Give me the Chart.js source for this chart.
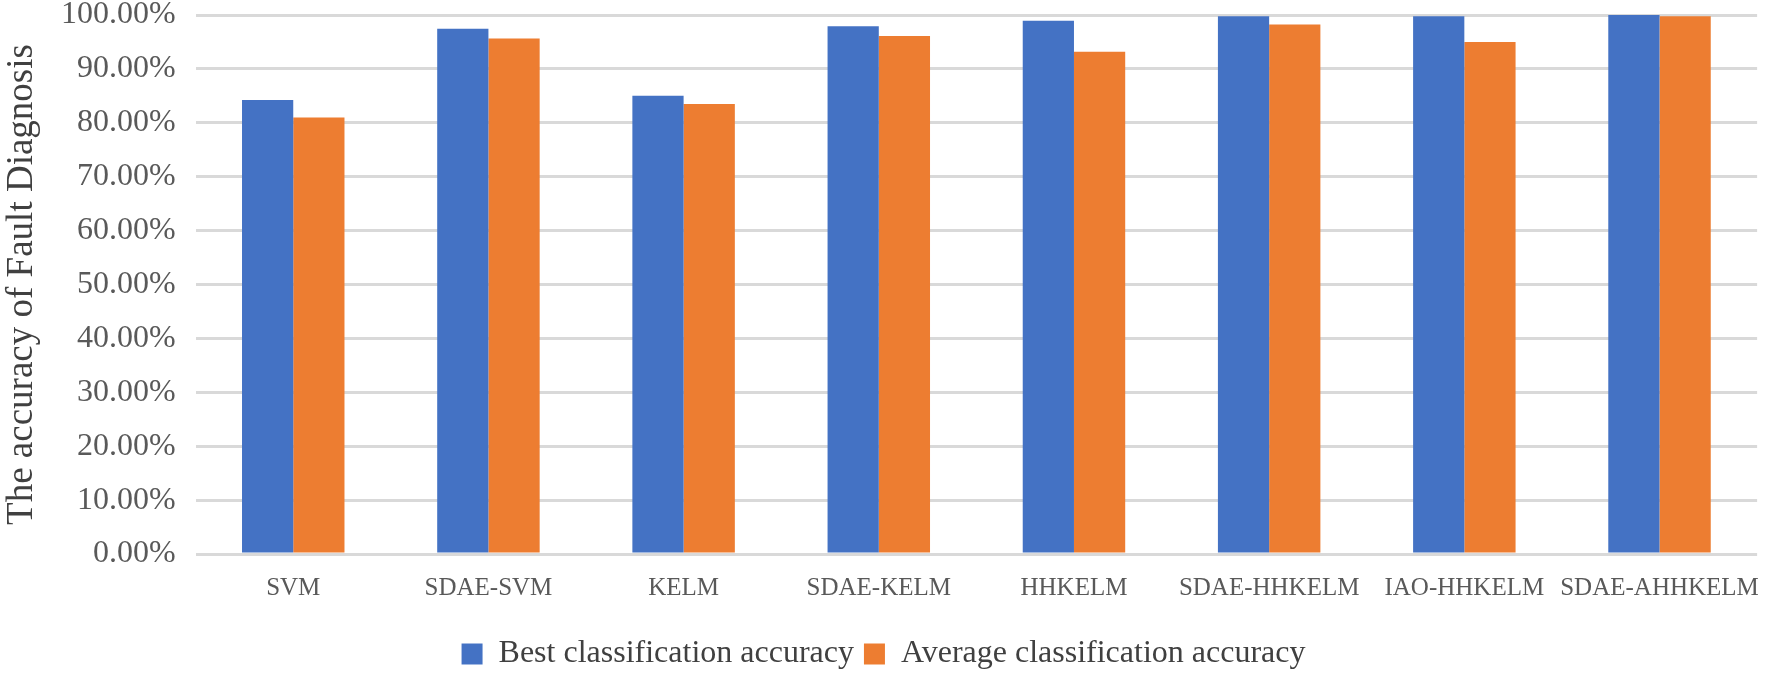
<!DOCTYPE html>
<html>
<head>
<meta charset="utf-8">
<script src="https://cdn.jsdelivr.net/npm/chart.js@4"></script>
<style>
  html, body { margin: 0; padding: 0; background: #fff; }
  .chart-box { width: 1770px; height: 676px; }
</style>
</head>
<body>
<div class="chart-box"><canvas id="accuracy-chart"></canvas></div>
<script>
// methods on the x axis
const methods = ['SVM', 'SDAE-SVM', 'KELM', 'SDAE-KELM', 'HHKELM', 'SDAE-HHKELM', 'IAO-HHKELM', 'SDAE-AHHKELM'];

// accuracy in percent
const bestAccuracy = [84.25, 97.45, 85.0, 97.9, 98.95, 99.75, 99.75, 100.0];
const averageAccuracy = [81.0, 95.65, 83.5, 96.1, 93.2, 98.25, 95.0, 99.75];

const seriesNames = ['Best classification accuracy', 'Average classification accuracy'];
const yTitle = 'The accuracy of Fault Diagnosis';

const serif = "'Liberation Serif', 'Times New Roman', serif";

const ctx = document.getElementById('accuracy-chart');
new Chart(ctx, {
    type: 'bar',
    data: {
        labels: methods,
        datasets: [{
            label: seriesNames[0],
            data: bestAccuracy,
            backgroundColor: '#4472C4',
            categoryPercentage: 0.525,
            barPercentage: 1.0
        }, {
            label: seriesNames[1],
            data: averageAccuracy,
            backgroundColor: '#ED7D31',
            categoryPercentage: 0.525,
            barPercentage: 1.0
        }]
    },
    options: {
        responsive: true,
        maintainAspectRatio: false,
        animation: false,
        layout: { padding: { left: 0, right: 3, top: 0, bottom: -4 } },
        plugins: {
            legend: {
                position: 'bottom',
                labels: {
                    font: { family: serif, size: 32 },
                    color: '#404040',
                    boxWidth: 21,
                    boxHeight: 21,
                    padding: 10
                }
            },
            tooltip: { enabled: false }
        },
        scales: {
            x: {
                grid: { display: false },
                border: { display: false },
                ticks: {
                    font: { family: serif, size: 25 },
                    color: '#595959',
                    padding: 11,
                    maxRotation: 0,
                    autoSkip: false
                },
                // leave room between the labels and the legend
                afterFit: function(scale) {
                    scale.height = 74;
                }
            },
            y: {
                min: 0,
                max: 100,
                grid: { color: '#D9D9D9', lineWidth: 3, drawTicks: false },
                border: { display: false },
                ticks: {
                    stepSize: 10,
                    padding: 20,
                    font: { family: serif, size: 32 },
                    color: '#595959',
                    callback: function(value) {
                        return value.toFixed(2) + '%';
                    }
                },
                title: {
                    display: true,
                    text: yTitle,
                    font: { family: serif, size: 37, lineHeight: 1 },
                    color: '#404040',
                    padding: { top: 4, bottom: 0 }
                },
                afterFit: function(scale) {
                    scale.paddingTop = 15;
                }
            }
        }
    }
});
</script>
</body>
</html>
